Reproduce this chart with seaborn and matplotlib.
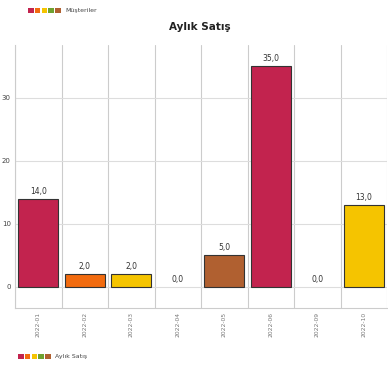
import matplotlib
matplotlib.use("Agg")
import matplotlib.pyplot as plt
import seaborn as sns
import pandas as pd
from matplotlib.patches import Rectangle

categories = ["2022-01", "2022-02", "2022-03", "2022-04", "2022-05", "2022-06", "2022-09", "2022-10"]
values = [14.0, 2.0, 2.0, 0.0, 5.0, 35.0, 0.0, 13.0]
palette_base = ["#C2234E", "#F26B0F", "#F5C400", "#6EA130", "#B06030"]
yticks = [0, 10, 20, 30]
title = "Aylık Satış"
top_legend = "Müşteriler"
bottom_legend = "Aylık Satış"

colors = [palette_base[i % len(palette_base)] for i in range(len(categories))]
df = pd.DataFrame({"cat": categories, "val": values})

sns.set_style("white")
plt.rcParams["font.family"] = ["DejaVu Sans"]

fig = plt.figure(figsize=(3.88, 3.67), dpi=100)
ax = fig.add_axes([15/388, 1-308/367, 372/388, (308-45)/367])

sns.barplot(data=df, x="cat", y="val", hue="cat", palette=colors, legend=False,
            saturation=1, width=0.86, edgecolor="#333333", linewidth=0.8, ax=ax, zorder=3)

for p, v in zip(ax.patches, values):
    if v == 0:
        p.set_edgecolor("none")

ax.set_ylim(-3.35, 38.4)
ax.set_xlim(-0.5, len(categories) - 0.5)
ax.set_yticks(yticks)
ax.set_yticklabels([str(t) for t in yticks], fontsize=5, color="#444444")
ax.set_xticks(range(len(categories)))
ax.set_xticklabels(categories, rotation=90, fontsize=4.3, color="#777777", va="top")
ax.set_xticks([i - 0.5 for i in range(len(categories) + 1)], minor=True)
ax.tick_params(axis="both", which="both", length=0, pad=3)
ax.tick_params(axis="y", pad=3)
ax.grid(False)
ax.grid(axis="y", which="major", color="#dddddd", linewidth=0.8, zorder=0)
ax.grid(axis="x", which="minor", color="#cccccc", linewidth=0.8, zorder=0)
ax.set_xlabel("")
ax.set_ylabel("")
for side in ["top", "right"]:
    ax.spines[side].set_visible(False)
ax.spines["left"].set_color("#cccccc")
ax.spines["bottom"].set_color("#cccccc")
ax.spines["left"].set_linewidth(0.8)
ax.spines["bottom"].set_linewidth(0.8)

for i, v in enumerate(values):
    ax.text(i, v + 0.5, f"{v:.1f}".replace(".", ","), ha="center", va="bottom",
            fontsize=5.5, color="#333333", zorder=4)

fig.text(0.515, 1 - 27/367, title, ha="center", va="center", fontsize=7.5,
         fontweight="bold", color="#222222")

def legend_row(x0, yc, label):
    s = 5.5
    gap = 1.3
    for i, c in enumerate(palette_base):
        x = x0 + i * (s + gap)
        fig.patches.append(Rectangle((x / 388, 1 - (yc + s / 2) / 367), s / 388, s / 367,
                                     transform=fig.transFigure, facecolor=c, edgecolor="none"))
    fig.text((x0 + 5 * (s + gap) + 3) / 388, 1 - yc / 367, label, ha="left", va="center",
             fontsize=4.5, color="#444444")

legend_row(28, 10.5, top_legend)
legend_row(18, 356.5, bottom_legend)

fig.savefig("out.png", dpi=100, facecolor="white")
